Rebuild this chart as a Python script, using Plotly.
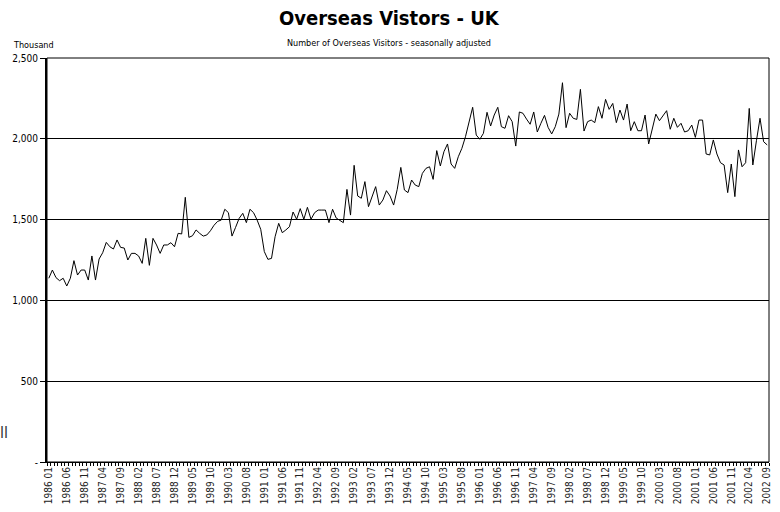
import plotly.graph_objects as go

# Monthly overseas visitors to the UK (thousands, seasonally adjusted), Jan 1986 - Sep 2002
VISITORS = [
    1137, 1188, 1141, 1122, 1137, 1089, 1137, 1246, 1157, 1188,
    1188, 1126, 1275, 1126, 1256, 1295, 1359, 1332, 1318, 1374,
    1328, 1324, 1250, 1291, 1291, 1275, 1229, 1384, 1217, 1384,
    1343, 1291, 1343, 1343, 1357, 1332, 1415, 1411, 1638, 1390,
    1400, 1436, 1415, 1398, 1405, 1431, 1465, 1489, 1497, 1564,
    1543, 1398, 1452, 1508, 1539, 1481, 1564, 1543, 1497, 1440,
    1302, 1254, 1260, 1394, 1477, 1419, 1436, 1456, 1547, 1502,
    1568, 1502, 1576, 1502, 1543, 1559, 1559, 1559, 1481, 1564,
    1510, 1495, 1481, 1687, 1528, 1836, 1646, 1632, 1735, 1580,
    1646, 1704, 1590, 1621, 1679, 1646, 1590, 1687, 1823, 1683,
    1667, 1745, 1714, 1704, 1786, 1817, 1827, 1749, 1927, 1832,
    1920, 1968, 1844, 1817, 1889, 1941, 2013, 2096, 2195, 2023,
    1997, 2034, 2164, 2079, 2147, 2195, 2075, 2065, 2143, 2106,
    1955, 2166, 2158, 2122, 2090, 2166, 2042, 2096, 2145, 2071,
    2030, 2075, 2153, 2347, 2069, 2158, 2127, 2120, 2306, 2048,
    2106, 2116, 2100, 2199, 2127, 2244, 2182, 2219, 2100, 2178,
    2116, 2215, 2050, 2106, 2050, 2050, 2147, 1968, 2071, 2153,
    2112, 2141, 2174, 2059, 2127, 2071, 2096, 2042, 2050, 2085,
    2009, 2116, 2116, 1906, 1900, 1993, 1906, 1852, 1838, 1667,
    1844, 1642, 1931, 1827, 1852, 2188, 1838, 1988, 2127, 1982,
    1962,
]

# Category labels shown every fifth month
TICK_LABELS = [
    "1986 01", "1986 06", "1986 11", "1987 04", "1987 09", "1988 02",
    "1988 07", "1988 12", "1989 05", "1989 10", "1990 03", "1990 08",
    "1991 01", "1991 06", "1991 11", "1992 04", "1992 09", "1993 02",
    "1993 07", "1993 12", "1994 05", "1994 10", "1995 03", "1995 08",
    "1996 01", "1996 06", "1996 11", "1997 04", "1997 09", "1998 02",
    "1998 07", "1998 12", "1999 05", "1999 10", "2000 03", "2000 08",
    "2001 01", "2001 06", "2001 11", "2002 04", "2002 09",
]
LABEL_STEP = 5

Y_TICKS = [0, 500, 1000, 1500, 2000, 2500]
Y_TICK_TEXT = ["-", "500", "1,000", "1,500", "2,000", "2,500"]

FONT = "Liberation Sans Narrow, DejaVu Sans Condensed, Arial Narrow, sans-serif"

months = list(range(len(VISITORS)))
label_pos = [i * LABEL_STEP for i in range(len(TICK_LABELS))]

fig = go.Figure()
fig.add_trace(go.Scatter(
    x=months, y=VISITORS, mode="lines",
    line=dict(color="black", width=1),
    hoverinfo="skip", showlegend=False,
))

fig.update_layout(
    width=780, height=512,
    margin=dict(l=47, r=8, t=58, b=50),
    paper_bgcolor="white", plot_bgcolor="white",
    font=dict(family=FONT, color="black", size=10),
    xaxis=dict(
        range=[-0.5, len(VISITORS) - 0.5],
        tickmode="array", tickvals=label_pos, ticktext=TICK_LABELS,
        tickangle=-90, ticks="", showgrid=False, zeroline=False,
        showline=True, linecolor="black", linewidth=1,
        tickfont=dict(family=FONT, size=10, color="#222222"),
        minor=dict(tickmode="linear", tick0=-0.5, dtick=1, ticks="outside",
                   ticklen=3, tickcolor="black", tickwidth=1, showgrid=False),
    ),
    yaxis=dict(
        range=[0, 2500],
        tickmode="array", tickvals=Y_TICKS, ticktext=Y_TICK_TEXT,
        ticks="outside", ticklen=5, tickcolor="black", tickwidth=1,
        showgrid=True, gridcolor="black", gridwidth=1, zeroline=False,
        showline=True, linecolor="black", linewidth=2,
        tickfont=dict(family=FONT, size=10, color="black"),
    ),
    shapes=[dict(type="rect", xref="paper", yref="paper", x0=0, x1=1, y0=0, y1=1,
                 line=dict(color="black", width=1), layer="above")],
)

fig.add_annotation(text="<b>Overseas Vistors - UK</b>", xref="paper", yref="paper",
                   x=0.4745, y=1.099, xanchor="center", yanchor="middle", showarrow=False,
                   font=dict(family=FONT, size=20, color="black"))
fig.add_annotation(text="Number of Overseas Visitors - seasonally adjusted",
                   xref="paper", yref="paper", x=0.474, y=1.037,
                   xanchor="center", yanchor="middle", showarrow=False,
                   font=dict(family=FONT, size=9, color="black"))
fig.add_annotation(text="Thousand", xref="paper", yref="paper",
                   x=-0.05, y=1.032, xanchor="left", yanchor="middle", showarrow=False,
                   font=dict(family=FONT, size=9, color="black"))
fig.add_annotation(text="ll", xref="paper", yref="paper",
                   x=-0.068, y=0.072, xanchor="left", yanchor="middle", showarrow=False,
                   font=dict(family=FONT, size=16, color="#333333"))

fig.write_html("out.html")
